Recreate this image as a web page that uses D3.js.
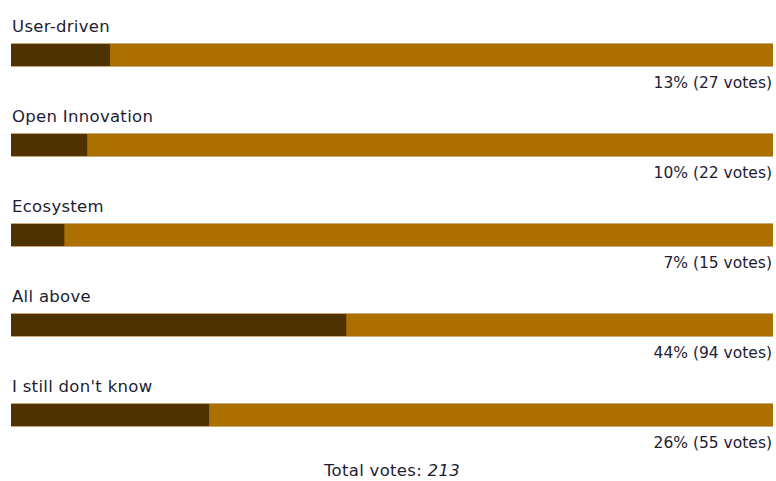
<!DOCTYPE html>
<html>
<head>
<meta charset="utf-8">
<script src="https://cdn.jsdelivr.net/npm/d3@7"></script>
<style>
  body { margin: 0; background: #fff; }
  text { font-family: "DejaVu Sans", sans-serif; fill: #1d1d33; }
</style>
</head>
<body>
<svg id="chart" width="776" height="481"></svg>
<script>
const options = ["User-driven", "Open Innovation", "Ecosystem", "All above", "I still don't know"];
const percents = [13, 10, 7, 44, 26];
const votes = [27, 22, 15, 94, 55];
const totalVotes = 213;

const svg = d3.select("#chart");
const FS = 16.5;

const rows = options.map((o, i) => ({ name: o, pct: percents[i], votes: votes[i] }));

const x = d3.scaleLinear().domain([0, 100]).range([11, 773]);
const y = d3.scaleBand().domain(options).range([0, 450]).paddingInner(0);

const row = svg.selectAll(".row")
  .data(rows)
  .join("g")
  .attr("class", "row")
  .attr("transform", d => `translate(0,${y(d.name)})`);

row.append("text")
  .attr("x", 12)
  .attr("y", 32)
  .attr("font-size", FS)
  .attr("letter-spacing", 0.3)
  .text(d => d.name);

// full bar (light)
row.append("rect")
  .attr("x", x(0))
  .attr("y", 43)
  .attr("width", x(100) - x(0))
  .attr("height", 24)
  .attr("fill", "#ab7000");

// share (dark)
row.append("rect")
  .attr("x", x(0))
  .attr("y", 43)
  .attr("width", d => x(d.pct) - x(0))
  .attr("height", 24)
  .attr("fill", "#4e3300");

row.append("line")
  .attr("x1", x(0)).attr("x2", x(100))
  .attr("y1", 43.5).attr("y2", 43.5)
  .attr("stroke", "#c9a978").attr("stroke-width", 1);
row.append("line")
  .attr("x1", x(0)).attr("x2", x(100))
  .attr("y1", 66.5).attr("y2", 66.5)
  .attr("stroke", "#c9a978").attr("stroke-width", 1);

row.append("text")
  .attr("x", 772)
  .attr("y", 88)
  .attr("text-anchor", "end")
  .attr("font-size", 15.5)
  .text(d => `${d.pct}% (${d.votes} votes)`);

const total = svg.append("text")
  .attr("x", (x(0) + x(100)) / 2)
  .attr("y", 476)
  .attr("text-anchor", "middle")
  .attr("font-size", FS)
  .attr("letter-spacing", 0.3);
total.append("tspan").text("Total votes: ");
total.append("tspan").attr("font-style", "italic").text(totalVotes);
</script>
</body>
</html>
